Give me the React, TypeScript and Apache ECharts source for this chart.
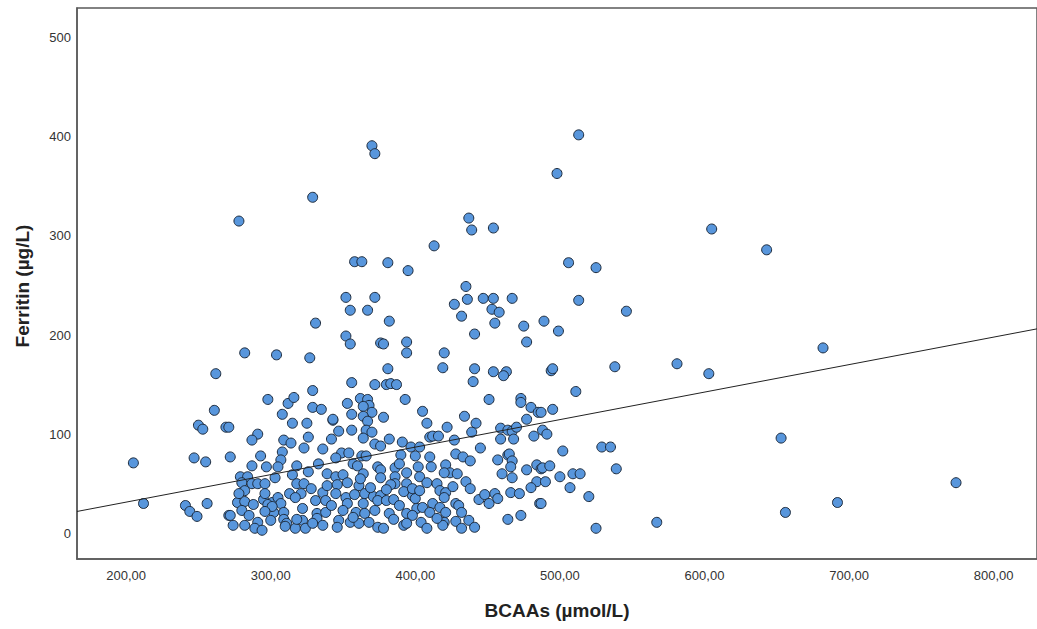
import React, { useEffect, useRef } from "react";
import * as echarts from "echarts";

// Axis ranges & ticks
const xMin = 166;
const xMax = 830;
const yMin = -26;
const yMax = 530;
const xTicks = [200, 300, 400, 500, 600, 700, 800];
const yTicks = [0, 100, 200, 300, 400, 500];

// Fit line: Ferritin = intercept + slope * BCAAs
const fitIntercept = -24.1;
const fitSlope = 0.2775;

const xTitle = "BCAAs (µmol/L)";
const yTitle = "Ferritin (µg/L)";

// [BCAAs, Ferritin]
const leftPoints = [
  [205, 71], [212, 30], [241, 28], [244, 22], [249, 17], [247, 76], [250, 109], [253, 105],
  [255, 72], [256, 30], [261, 124], [262, 161], [269, 107], [271, 18], [272, 77], [278, 315],
  [282, 182], [304, 180], [327, 177], [329, 339], [370, 391], [372, 383],
];

const cluster300 = [
  [271, 107], [291, 100], [287, 94], [309, 94], [314, 91], [326, 97], [323, 86], [336, 85],
  [293, 78], [308, 82], [307, 74], [287, 68], [297, 67], [305, 67], [315, 59], [326, 62],
  [339, 60], [279, 57], [284, 57], [280, 51], [287, 50], [291, 50], [296, 50], [318, 50],
  [323, 50], [328, 45], [282, 43], [313, 40], [321, 40], [336, 41], [277, 31], [282, 32],
  [288, 29], [295, 34], [301, 31], [305, 36], [307, 30], [317, 36], [331, 33], [338, 33],
  [280, 23], [298, 29], [302, 21], [309, 21], [322, 25], [332, 20], [338, 21], [272, 18],
  [300, 13], [309, 14], [322, 13], [332, 15], [274, 8], [282, 8], [291, 11], [289, 5],
  [294, 3], [311, 10], [317, 5], [324, 5], [329, 10], [336, 8], [329, 144], [298, 135],
  [312, 131], [316, 137], [329, 127], [335, 125], [308, 120], [315, 111], [325, 111], [343, 114],
  [301, 27], [310, 7], [318, 14], [285, 18], [296, 22], [296, 40], [278, 40], [318, 68],
  [333, 70], [339, 48], [303, 56],
];

const cluster370 = [
  [352, 199], [355, 191], [376, 192], [378, 191], [394, 193], [394, 182], [381, 166], [356, 152],
  [372, 150], [380, 150], [383, 151], [387, 150], [393, 135], [353, 131], [362, 136], [367, 135],
  [368, 129], [364, 128], [370, 122], [356, 120], [364, 118], [367, 113], [378, 117], [343, 115],
  [405, 123], [408, 111], [347, 103], [356, 104], [366, 104], [370, 102], [364, 96], [372, 90],
  [376, 88], [382, 95], [391, 92], [397, 87], [403, 87], [410, 97], [342, 95], [349, 81],
  [354, 81], [363, 78], [366, 78], [390, 79], [400, 78], [410, 77], [345, 76], [357, 70],
  [360, 68], [374, 67], [376, 64], [386, 66], [389, 70], [394, 61], [402, 67], [411, 67],
  [364, 60], [376, 56], [386, 57], [386, 50], [383, 49], [345, 57], [350, 59], [353, 51],
  [361, 48], [346, 49], [394, 50], [403, 57], [408, 51], [398, 38], [400, 35], [401, 25],
  [405, 26], [412, 30], [345, 40], [352, 36], [358, 39], [365, 40], [371, 37], [376, 38],
  [353, 30], [364, 30], [374, 33], [380, 33], [385, 34], [389, 28], [350, 23], [359, 21],
  [365, 20], [372, 23], [382, 20], [394, 20], [398, 18], [410, 21], [347, 13], [355, 11],
  [361, 10], [368, 11], [374, 6], [378, 5], [392, 8], [394, 10], [404, 11], [408, 5],
  [346, 6], [412, 98], [369, 46], [392, 42], [357, 16], [385, 14], [342, 28], [398, 45],
  [362, 55], [403, 43], [380, 44],
];

const upperPoints = [
  [352, 238], [355, 225], [372, 238], [367, 225], [382, 214], [358, 274], [363, 274], [381, 273],
  [395, 265], [331, 212], [413, 290], [437, 318], [439, 306], [454, 308], [435, 249], [436, 236],
  [427, 231], [432, 219], [447, 237], [454, 237], [467, 237], [453, 226], [458, 223], [455, 212],
  [475, 209], [489, 214], [499, 204], [477, 193], [441, 201], [420, 182], [419, 167], [441, 166],
  [454, 163], [463, 163], [461, 159], [440, 153], [451, 135],
];

const cluster450 = [
  [434, 118], [442, 111], [422, 107], [439, 102], [459, 106], [464, 104], [467, 103], [470, 107],
  [416, 98], [427, 94], [459, 95], [468, 95], [445, 86], [428, 80], [433, 77], [438, 73],
  [457, 74], [464, 79], [465, 80], [467, 73], [466, 67], [477, 64], [484, 69], [487, 65],
  [421, 69], [424, 61], [429, 60], [420, 61], [460, 60], [467, 56], [435, 52], [484, 52],
  [415, 50], [417, 43], [421, 41], [420, 36], [428, 30], [430, 28], [444, 34], [448, 39],
  [455, 40], [457, 35], [466, 41], [472, 40], [486, 30], [417, 26], [421, 21], [432, 21],
  [420, 11], [428, 12], [437, 13], [419, 8], [432, 5], [441, 6], [464, 14], [473, 18],
  [480, 46], [473, 136], [473, 132], [480, 127], [485, 122], [495, 125], [477, 115], [482, 98],
  [415, 15], [426, 47], [438, 45], [451, 30],
];

const rightPoints = [
  [487, 122], [488, 104], [491, 100], [502, 83], [529, 87], [535, 87], [488, 66], [493, 68],
  [490, 52], [500, 57], [509, 60], [514, 60], [539, 65], [507, 46], [520, 37], [487, 30],
  [525, 5], [567, 11], [494, 164], [495, 166], [538, 168], [511, 143], [581, 171], [603, 161],
  [546, 224], [506, 273], [525, 268], [513, 235], [498, 363], [513, 402], [605, 307], [643, 286],
  [682, 187], [653, 96], [656, 21], [692, 31], [774, 51],
];

const allPoints = [
  ...leftPoints, ...cluster300, ...cluster370, ...upperPoints, ...cluster450, ...rightPoints,
];

const fmtX = (v: number) => v.toFixed(2).replace(".", ",");

export default function App() {
  const ref = useRef<HTMLDivElement>(null);
  useEffect(() => {
    if (!ref.current) return;
    const chart = echarts.init(ref.current, null, { renderer: "svg" });
    chart.setOption({
      animation: false,
      backgroundColor: "#ffffff",
      grid: {
        left: 77,
        top: 8,
        right: -2,
        bottom: 70,
        show: true,
        borderColor: "#5a5a5a",
        borderWidth: 1.5,
      },
      xAxis: {
        type: "value",
        min: xMin,
        max: xMax,
        axisLine: { show: true, onZero: false, lineStyle: { color: "#5a5a5a", width: 1.5 } },
        axisTick: { show: false },
        splitLine: { show: false },
        axisLabel: {
          customValues: xTicks,
          formatter: (v: number) => fmtX(v),
          color: "#333",
          fontSize: 13,
          fontFamily: "Liberation Sans, Arial, sans-serif",
          margin: 10,
        },
      },
      yAxis: {
        type: "value",
        min: yMin,
        max: yMax,
        axisLine: { show: true, onZero: false, lineStyle: { color: "#5a5a5a", width: 1.5 } },
        axisTick: { show: false },
        splitLine: { show: false },
        axisLabel: {
          customValues: yTicks,
          color: "#333",
          fontSize: 13,
          fontFamily: "Liberation Sans, Arial, sans-serif",
          margin: 6,
        },
      },
      graphic: [
        {
          type: "text",
          x: 557,
          y: 610,
          style: {
            text: xTitle,
            font: "bold 19px 'Liberation Sans', Arial, sans-serif",
            fill: "#222",
            align: "center",
            verticalAlign: "middle",
          },
        },
        {
          type: "text",
          x: 22,
          y: 286,
          rotation: Math.PI / 2,
          style: {
            text: yTitle,
            font: "bold 19px 'Liberation Sans', Arial, sans-serif",
            fill: "#222",
            align: "center",
            verticalAlign: "middle",
          },
        },
      ],
      series: [
        {
          type: "scatter",
          data: allPoints,
          symbol: "circle",
          symbolSize: 10,
          itemStyle: {
            color: "#5896dc",
            borderColor: "#1c2a3c",
            borderWidth: 1,
            opacity: 1,
          },
          z: 2,
        },
        {
          type: "line",
          data: [
            [xMin, fitIntercept + fitSlope * xMin],
            [xMax, fitIntercept + fitSlope * xMax],
          ],
          symbol: "none",
          lineStyle: { color: "#222", width: 1 },
          z: 3,
        },
      ],
    });
    return () => chart.dispose();
  }, []);
  return (
    <div
      ref={ref}
      style={{ position: "fixed", left: 0, top: 0, width: 1037, height: 629, background: "#fff" }}
    />
  );
}
